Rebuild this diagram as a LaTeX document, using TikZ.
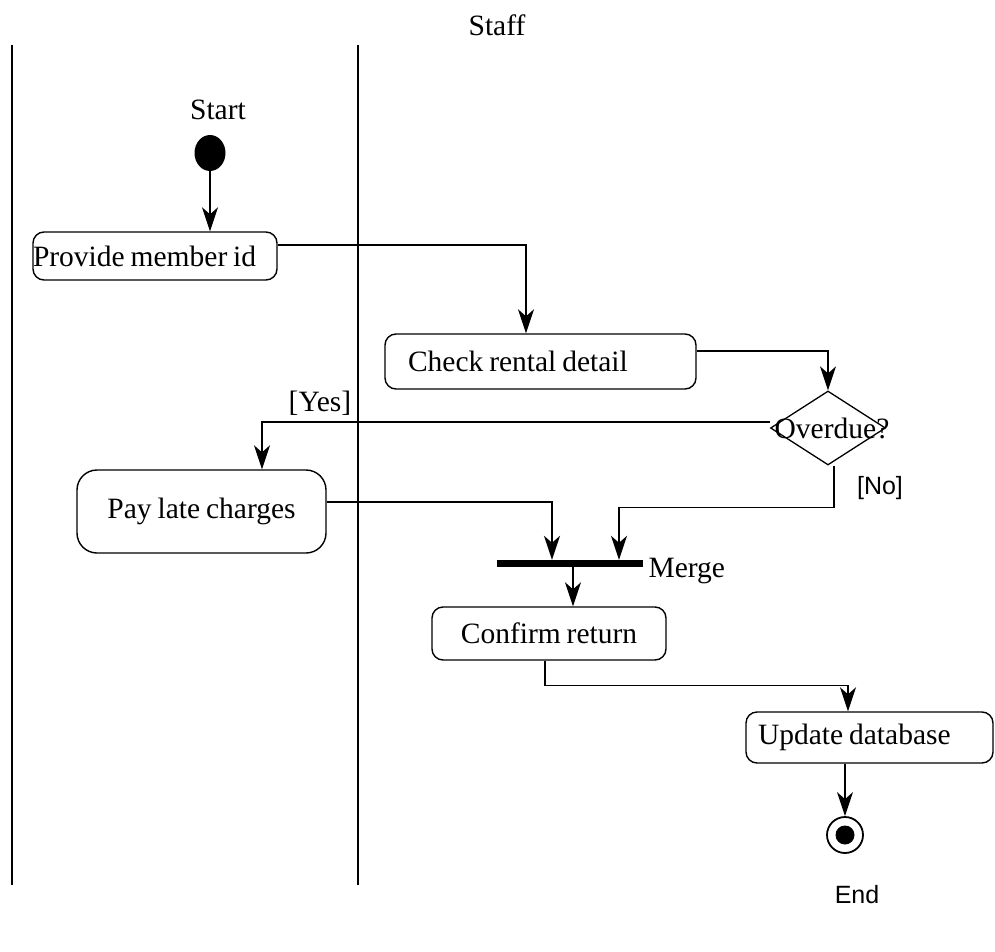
\documentclass[tikz,border=0pt]{standalone}
\usepackage{fontspec}
\setmainfont{Liberation Serif}[WordSpace={0.8,0.5,0.5}]
\newfontfamily\sansf{Liberation Sans}
\usetikzlibrary{arrows.meta,shapes.geometric}
\begin{document}
\begin{tikzpicture}[x=1pt,y=-1pt,
  every node/.style={font=\fontsize{29.5}{34}\selectfont},
  act/.style={draw,rounded corners=11pt,line width=1.4pt,inner sep=0pt},
  arr/.style={line width=1.4pt,-{Stealth[length=24pt,width=16pt,inset=7pt,line width=1.4pt]}},
  lane/.style={line width=1.2pt},
  sanslbl/.style={font=\sansf\fontsize{25}{30}\selectfont}]
\useasboundingbox (0,0) rectangle (995,952);
% swimlanes
\coordinate (l1t) at (12,45); \coordinate (l1b) at (12,885);
\coordinate (l2t) at (358,45); \coordinate (l2b) at (358,885);
\draw[lane] (l1t) -- (l1b);
\draw[lane] (l2t) -- (l2b);
\node (staff) at (497,25) {Staff};
% nodes
\node (startlbl) at (218,110) {Start};
\node[ellipse,fill=black,minimum width=31pt,minimum height=36pt,inner sep=0pt] (start) at (210,153) {};
\node[act,minimum height=48pt] (pm) at (155,256) {\makebox[244pt][l]{Provide member id}};
\node[act,minimum height=55pt] (check) at (540.5,361.5) {\makebox[311pt][l]{\hspace{23pt}Check rental detail}};
\node[diamond,draw,line width=1.3pt,minimum width=115pt,minimum height=74pt,inner sep=0pt,
      label={[xshift=4pt]center:Overdue?}] (dec) at (828,428) {};
\node[act,minimum width=249pt,minimum height=83pt,rounded corners=20pt] (pay) at (201.5,511.5) {Pay late charges};
\node[fill=black,minimum width=146pt,minimum height=7pt,inner sep=0pt] (bar) at (570,563.5) {};
\node[anchor=west] (merge) at (645,571) {Merge};
\node[act,minimum width=234pt,minimum height=53pt] (confirm) at (549,633.5) {Confirm return};
\node[act,minimum height=51pt] (upd) at (869.5,737.5) {\makebox[247pt][l]{\hspace{12pt}Update database}};
\node[circle,draw,line width=1.8pt,minimum size=36pt,inner sep=0pt] (endc) at (845,835) {};
\node[circle,fill=black,minimum size=19pt,inner sep=0pt] (endi) at (endc) {};
\node[sanslbl] (endlbl) at (857,895) {End};
\node (yes) at (320,403) {[Yes]};
\node[sanslbl] (no) at (880,488) {[No]};
% connectors
\draw[arr] (start.south) -- (start.south |- pm.north);
\draw[arr] ([yshift=11pt]pm.east) -| ([xshift=-14.5pt]check.north);
\draw[arr] ([yshift=10.5pt]check.east) -| (dec.north);
\draw[arr] ([yshift=6pt]dec.west) -| ([xshift=60.5pt]pay.north);
\draw[arr] ([yshift=9.5pt]pay.east) -| ([xshift=-18pt]bar.north);
\draw[arr] ([xshift=6pt]dec.south) -- ++(0,42) -| ([xshift=49pt]bar.north);
\draw[arr] ([xshift=3pt]bar.south) -- ([xshift=3pt]bar.south |- confirm.north);
\draw[arr] ([xshift=-4pt]confirm.south) -- ++(0,25) -| ([xshift=-21.5pt]upd.north);
\draw[arr] (endc.north |- upd.south) -- (endc.north);
\end{tikzpicture}
\end{document}
